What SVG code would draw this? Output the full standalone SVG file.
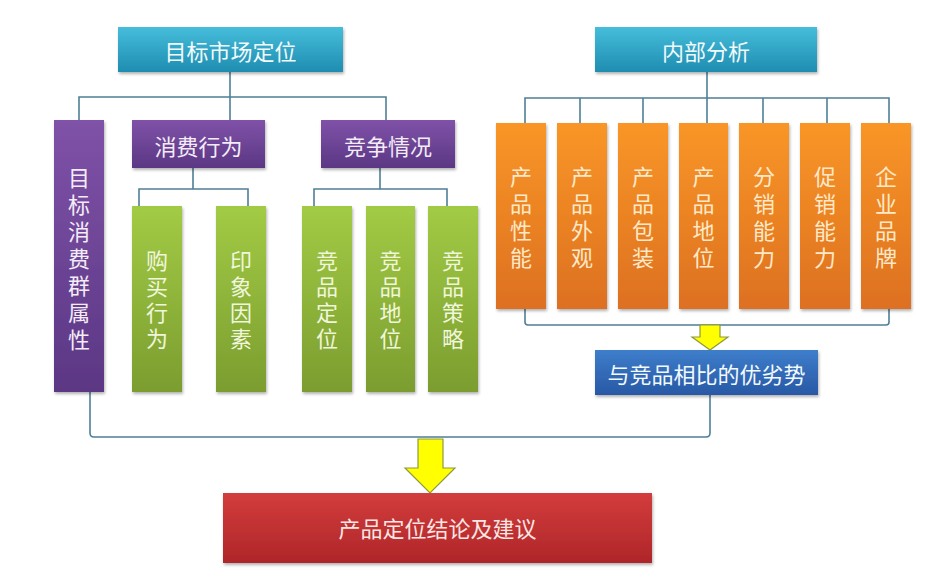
<svg xmlns="http://www.w3.org/2000/svg" width="925" height="583" viewBox="0 0 925 583">
<defs>
<linearGradient id="gTeal" x1="0" y1="0" x2="0" y2="1"><stop offset="0" stop-color="#45bddb"/><stop offset="1" stop-color="#1f8db0"/></linearGradient>
<linearGradient id="gPurple" x1="0" y1="0" x2="0" y2="1"><stop offset="0" stop-color="#7f52a8"/><stop offset="1" stop-color="#5b3784"/></linearGradient>
<linearGradient id="gGreen" x1="0" y1="0" x2="0" y2="1"><stop offset="0" stop-color="#a2cb45"/><stop offset="1" stop-color="#7b9d2f"/></linearGradient>
<linearGradient id="gOrange" x1="0" y1="0" x2="0" y2="1"><stop offset="0" stop-color="#f99627"/><stop offset="1" stop-color="#dd7020"/></linearGradient>
<linearGradient id="gBlue" x1="0" y1="0" x2="0" y2="1"><stop offset="0" stop-color="#3e7ecb"/><stop offset="1" stop-color="#2858a5"/></linearGradient>
<linearGradient id="gRed" x1="0" y1="0" x2="0" y2="1"><stop offset="0" stop-color="#d33c3c"/><stop offset="1" stop-color="#ae2629"/></linearGradient>
<filter id="sh" x="-20%" y="-20%" width="140%" height="140%"><feDropShadow dx="1" dy="2" stdDeviation="1.5" flood-color="#000" flood-opacity="0.3"/></filter>
</defs>
<style>
.box{filter:url(#sh)}
.t{font-family:"Noto Sans CJK SC","Noto Sans",sans-serif;font-size:22px;text-anchor:middle;dominant-baseline:central}
.v{font-family:"Noto Sans CJK SC","Noto Sans",sans-serif;font-size:22px;text-anchor:middle;writing-mode:vertical-rl;text-orientation:upright;letter-spacing:5px}
.v4{letter-spacing:4px}
.w{fill:#f2fafc}
.o{fill:#fde9c9}
.g{fill:#f0f6dc}
.p{fill:#f3ecf8}
.ln{fill:none;stroke:#4f7f97;stroke-width:1.6}
.ar{fill:#ffff00;stroke:#8e9a3c;stroke-width:1.2}
</style>
<rect width="925" height="583" fill="#ffffff"/>

<g id="connectors">
<path class="ln" d="M79 120V97H386V120M230 72V120"/>
<path class="ln" d="M193 168V189M139 206V189H248V206"/>
<path class="ln" d="M380 168V189M314 206V189H447V206"/>
<path class="ln" d="M707 72V123M525 123V98H889V123M580 98V123M643 98V123M763 98V123M827 98V123"/>
<path class="ln" d="M525 309V322Q525 325 528 325H886Q889 325 889 322V309"/>
<path class="ln" d="M90 392V433Q90 437 94 437H706Q710 437 710 433V395"/>
<polygon class="ar" points="700,325 720,325 720,337 728,337 710,350 692,337 700,337"/>
<polygon class="ar" points="418,439 443,439 443,468 455,468 430,493 405,468 418,468"/>
</g>

<g id="n-market"><rect class="box" x="118" y="27" width="225" height="45" fill="url(#gTeal)"/><text class="t w" x="230.5" y="50">目标市场定位</text></g>
<g id="n-internal"><rect class="box" x="595" y="27" width="222" height="45" fill="url(#gTeal)"/><text class="t w" x="706" y="50">内部分析</text></g>

<g id="n-group"><rect class="box" x="54" y="120" width="50" height="272" fill="url(#gPurple)"/><text class="v p" x="79" y="261">目标消费群属性</text></g>
<g id="n-behavior"><rect class="box" x="132" y="120" width="133" height="48" fill="url(#gPurple)"/><text class="t p" x="198.5" y="145">消费行为</text></g>
<g id="n-compete"><rect class="box" x="321" y="120" width="134" height="48" fill="url(#gPurple)"/><text class="t p" x="388" y="145">竞争情况</text></g>

<g id="n-buy"><rect class="box" x="132" y="206" width="50" height="186" fill="url(#gGreen)"/><text class="v v4 g" x="157" y="302">购买行为</text></g>
<g id="n-impress"><rect class="box" x="216" y="206" width="50" height="186" fill="url(#gGreen)"/><text class="v v4 g" x="241" y="302">印象因素</text></g>
<g id="n-cpos"><rect class="box" x="302" y="206" width="50" height="186" fill="url(#gGreen)"/><text class="v v4 g" x="327" y="302">竞品定位</text></g>
<g id="n-cstat"><rect class="box" x="366" y="206" width="49" height="186" fill="url(#gGreen)"/><text class="v v4 g" x="390.5" y="302">竞品地位</text></g>
<g id="n-cstrat"><rect class="box" x="428" y="206" width="50" height="186" fill="url(#gGreen)"/><text class="v v4 g" x="453" y="302">竞品策略</text></g>

<g id="n-perf"><rect class="box" x="496" y="123" width="50" height="186" fill="url(#gOrange)"/><text class="v o" x="521" y="220">产品性能</text></g>
<g id="n-look"><rect class="box" x="557" y="123" width="50" height="186" fill="url(#gOrange)"/><text class="v o" x="582" y="220">产品外观</text></g>
<g id="n-pack"><rect class="box" x="618" y="123" width="50" height="186" fill="url(#gOrange)"/><text class="v o" x="643" y="220">产品包装</text></g>
<g id="n-pstat"><rect class="box" x="679" y="123" width="49" height="186" fill="url(#gOrange)"/><text class="v o" x="703.5" y="220">产品地位</text></g>
<g id="n-dist"><rect class="box" x="739" y="123" width="50" height="186" fill="url(#gOrange)"/><text class="v o" x="764" y="220">分销能力</text></g>
<g id="n-promo"><rect class="box" x="800" y="123" width="50" height="186" fill="url(#gOrange)"/><text class="v o" x="825" y="220">促销能力</text></g>
<g id="n-brand"><rect class="box" x="861" y="123" width="50" height="186" fill="url(#gOrange)"/><text class="v o" x="886" y="220">企业品牌</text></g>

<g id="n-compare"><rect class="box" x="595" y="350" width="223" height="45" fill="url(#gBlue)"/><text class="t w" x="706.5" y="373">与竞品相比的优劣势</text></g>
<g id="n-conclusion"><rect class="box" x="223" y="493" width="429" height="70" fill="url(#gRed)"/><text class="t" fill="#fbe6e3" x="437.5" y="527">产品定位结论及建议</text></g>
</svg>
